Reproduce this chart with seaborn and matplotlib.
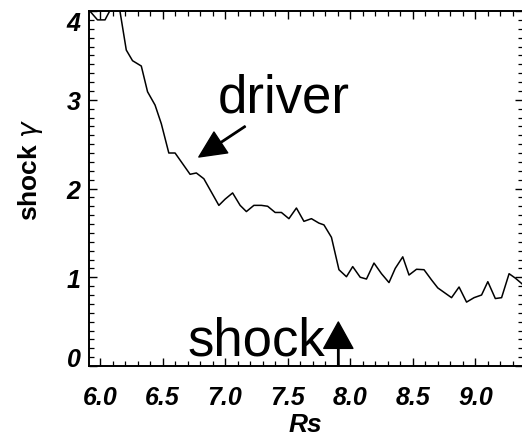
import matplotlib
matplotlib.use("Agg")
import matplotlib.pyplot as plt
import seaborn as sns
import pandas as pd
from matplotlib.ticker import MultipleLocator

# data
rs = [5.90, 5.98, 6.04, 6.10, 6.15, 6.21, 6.26, 6.33, 6.38, 6.44, 6.49, 6.55,
      6.60, 6.66, 6.72, 6.77, 6.83, 6.89, 6.95, 7.00, 7.06, 7.12, 7.17, 7.23,
      7.29, 7.34, 7.40, 7.45, 7.51, 7.57, 7.63, 7.69, 7.75, 7.79, 7.85, 7.91,
      7.97, 8.02, 8.08, 8.13, 8.19, 8.25, 8.31, 8.36, 8.42, 8.47, 8.53, 8.59,
      8.65, 8.70, 8.76, 8.81, 8.87, 8.93, 8.99, 9.05, 9.10, 9.16, 9.21, 9.27,
      9.32, 9.37, 9.40]
gamma = [4.03, 3.90, 3.90, 4.06, 4.08, 3.56, 3.44, 3.38, 3.09, 2.94, 2.73, 2.40,
         2.40, 2.28, 2.16, 2.175, 2.11, 1.96, 1.81, 1.88, 1.95, 1.81, 1.74, 1.81,
         1.81, 1.80, 1.73, 1.73, 1.66, 1.78, 1.63, 1.66, 1.61, 1.59, 1.45, 1.085,
         1.006, 1.12, 1.00, 0.98, 1.16, 1.04, 0.94, 1.10, 1.23, 1.025, 1.09, 1.085,
         0.97, 0.88, 0.82, 0.77, 0.89, 0.72, 0.77, 0.80, 0.95, 0.76, 0.77, 1.04,
         0.99, 0.93, 0.89]
xticks = [6.0, 6.5, 7.0, 7.5, 8.0, 8.5, 9.0]
xticklabels = ["6.0", "6.5", "7.0", "7.5", "8.0", "8.5", "9.0"]
yticks = [0, 1, 2, 3, 4]
yticklabels = ["0", "1", "2", "3", "4"]

df = pd.DataFrame({"Rs": rs, "gamma": gamma})

sns.set_style("ticks")
plt.rcParams["font.family"] = ["Liberation Sans", "DejaVu Sans"]
plt.rcParams["text.color"] = "black"
plt.rcParams["axes.labelcolor"] = "black"
plt.rcParams["xtick.color"] = "black"
plt.rcParams["ytick.color"] = "black"
plt.rcParams["axes.edgecolor"] = "black"

fig = plt.figure(figsize=(5.22, 4.39), dpi=100)
ax = fig.add_axes([89 / 522, 1 - 367 / 439, 433.6 / 522, 355 / 439])

sns.lineplot(data=df, x="Rs", y="gamma", ax=ax, color="black", linewidth=1.1,
             estimator=None, sort=False)

ax.set_xlim(5.912, 9.378)
ax.set_ylim(0, 4)

ax.xaxis.set_minor_locator(MultipleLocator(0.1))
ax.yaxis.set_minor_locator(MultipleLocator(0.1))
ax.set_xticks(xticks)
ax.set_yticks(yticks)

tick_font = dict(family=["Liberation Sans", "DejaVu Sans"], weight="bold",
                 style="italic", size=18)
ax.set_xticklabels(xticklabels, fontdict=tick_font)
ax.set_yticklabels(yticklabels, fontdict=tick_font)

ax.tick_params(which="major", direction="in", length=6, width=1.0,
               top=True, right=True, pad=6, colors="black")
ax.tick_params(axis="x", which="major", pad=14)
ax.tick_params(which="minor", direction="in", length=3.5, width=0.9,
               top=True, right=True, colors="black")

ylabs = ax.get_yticklabels()
ylabs[0].set_va("baseline")
ylabs[-1].set_va("top")

for name, sp in ax.spines.items():
    sp.set_linewidth(1.4)
    sp.set_color("black")
    sp.set_visible(name != "right")

ax.set_xlabel("Rs", fontsize=19, fontweight="bold", fontstyle="italic",
              labelpad=2, color="black")
ax.set_ylabel(r"shock $\gamma$", fontsize=19, fontweight="bold", color="black",
              family=["Liberation Sans Narrow", "Liberation Sans", "DejaVu Sans"])
ax.yaxis.label.set_va("center")
ax.yaxis.set_label_coords(-0.134, 0.555)

ax.text(6.944, 2.873, "driver", fontsize=38, ha="left", va="baseline",
        color="black", family=["Liberation Sans", "DejaVu Sans"])
ax.annotate("", xy=(6.79, 2.355), xytext=(7.16, 2.70),
            arrowprops=dict(facecolor="black", edgecolor="black", width=1.0,
                            headwidth=18, headlength=19, shrink=0))

ax.text(6.696, 0.135, "shock", fontsize=38, ha="left", va="baseline",
        color="black", family=["Liberation Sans", "DejaVu Sans"])
ax.annotate("", xy=(7.905, 0.496), xytext=(7.905, 0.0),
            arrowprops=dict(facecolor="black", edgecolor="black", width=1.0,
                            headwidth=21, headlength=19, shrink=0))

fig.savefig("out.png", dpi=100)
